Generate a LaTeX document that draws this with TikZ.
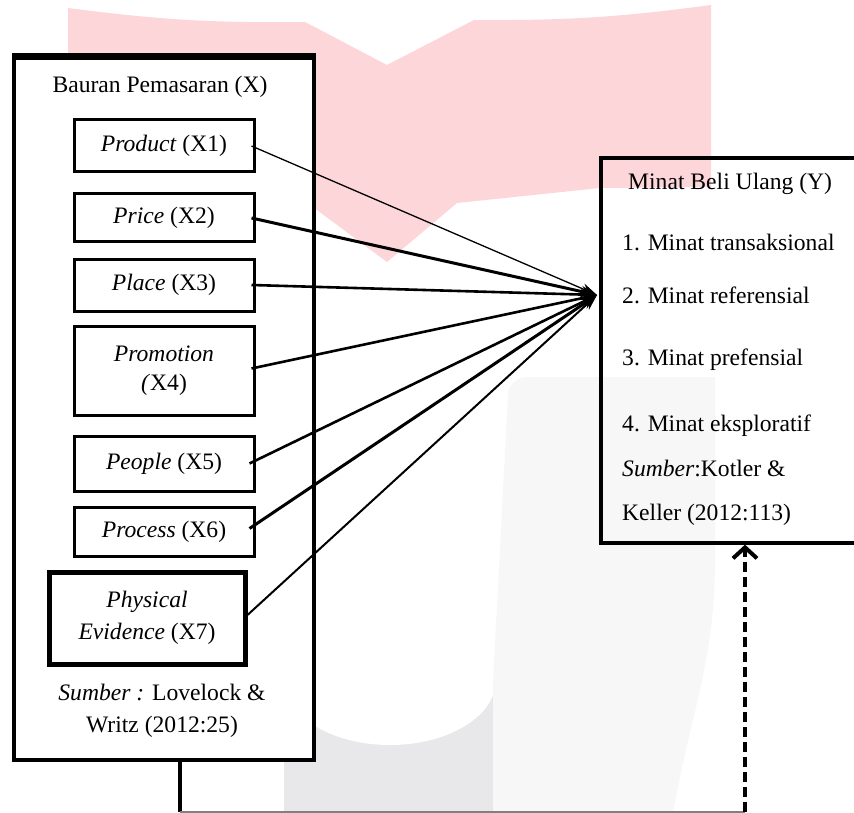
\documentclass[tikz,border=0pt]{standalone}
\usepackage{fontspec}
\setmainfont{Liberation Serif}
\usetikzlibrary{arrows.meta}
\definecolor{wmpink}{RGB}{253,214,218}
\definecolor{wmgray}{RGB}{232,232,234}
\definecolor{wmlight}{RGB}{247,247,247}
\begin{document}
\begin{tikzpicture}[x=1pt,y=1pt,
  font=\fontsize{23.6}{29}\selectfont,
  sbox/.style={draw, line width=3, minimum width=180, inner sep=0, align=center},
  txt/.style={anchor=base west, inner sep=0},
  arr/.style={-{Stealth[length=16pt,width=11pt]}}]
\useasboundingbox (0,0) rectangle (854,-813);
\fill[white] (0,0) rectangle (854,-813);
% watermark
\fill[wmpink] (68,-8) to[bend right=4] (305,-22) -- (387,-65) -- (474,-20) to[bend right=4] (711,-5) -- (711,-187)
  -- (600,-188) -- (457,-203) -- (387,-262) -- (317,-210) -- (68,-200) -- cycle;
\fill[wmgray] (284,-690) rectangle (494,-813);
\fill[white] (390,-680) ellipse [x radius=106, y radius=65];
\fill[wmlight] (493,-813) -- (493,-683) -- (508,-395) to[out=90,in=180] (528,-377)
  -- (715,-377) -- (715,-560) to[out=-90,in=80] (673,-813) -- cycle;
% left box
\node[draw, line width=4, fill=white, minimum width=300, minimum height=702, inner sep=0] (outer) at (164,-409) {};
\draw[line width=5.5] (outer.north west) -- (outer.north east);
\node[anchor=base, inner sep=0] (tx) at (160,-93) {Bauran Pemasaran (X)};
\node[sbox, minimum height=52] (p1) at (164,-146) {\textit{Product} (X1)};
\node[sbox, minimum height=48] (p2) at (164,-218) {\textit{Price} (X2)};
\node[sbox, minimum height=52] (p3) at (164,-285) {\textit{Place} (X3)};
\node[sbox, minimum height=89] (p4) at (164,-370.5) {\textit{Promotion}\\\textit{(}X4)};
\node[sbox, minimum height=55] (p5) at (164,-463.5) {\textit{People} (X5)};
\node[sbox, minimum height=49] (p6) at (164,-531.5) {\textit{Process} (X6)};
\node[sbox, line width=5, minimum width=196, minimum height=92] (p7) at (147,-618) {\textit{Physical}\\[3pt]\textit{Evidence} (X7)};
\node[align=center, inner sep=0] (s1) at (162,-711) {\textit{Sumber :} Lovelock \&\\[3pt]Writz (2012:25)};
% right box
\node[draw, line width=3.3, minimum width=280, minimum height=385, inner sep=0] (minat) at (741,-350.5) {};
\node[txt] (y0) at (628,-190) {Minat Beli Ulang (Y)};
\node[txt] (y1) at (622,-251) {1. Minat transaksional};
\node[txt] (y2) at (622,-303) {2. Minat referensial};
\node[txt] (y3) at (622,-365) {3. Minat prefensial};
\node[txt] (y4) at (622,-431) {4. Minat eksploratif};
\node[txt] (y5) at (622,-476) {\textit{Sumber}:Kotler \&};
\node[txt] (y6) at (622,-520) {Keller (2012:113)};
% arrows
\coordinate (tip) at (597,-295);
\draw[line width=1.3, arr] ([xshift=-4]p1.east) -- (tip);
\draw[line width=3, arr] ([xshift=-4]p2.east) -- (tip);
\draw[line width=2.6, arr] ([xshift=-4]p3.east) -- (tip);
\draw[line width=2.6, arr] ([xshift=-4,yshift=2]p4.east) -- (tip);
\draw[line width=2.6, arr] ([xshift=-6]p5.east) -- (tip);
\draw[line width=3, arr] ([xshift=-6,yshift=3]p6.east) -- (tip);
\draw[line width=2, arr] ([yshift=3]p7.east) -- (tip);
% bottom connector
\coordinate (b1) at (180,-812);
\coordinate (b2) at (745,-812);
\draw[line width=4] (outer.south -| b1) -- (b1);
\draw[gray, line width=1.2] (b1) -- (b2);
\draw[line width=4, dash pattern=on 10pt off 5pt, -{Straight Barb[length=11pt,width=24pt]}] (b2) -- (minat.south -| b2);
\end{tikzpicture}
\end{document}
